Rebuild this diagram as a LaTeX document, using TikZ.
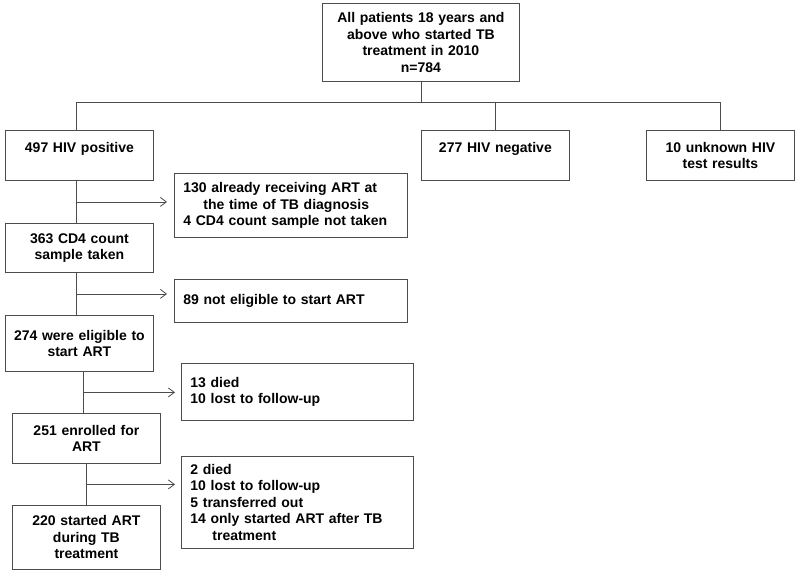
\documentclass[tikz,border=0pt]{standalone}
\usepackage{fontspec}
\setmainfont{Liberation Sans}
\usetikzlibrary{arrows.meta,calc}
\tikzset{
  box/.style={draw=black!70, line width=0.8pt, anchor=north west, inner xsep=6pt, inner ysep=2pt,
    align=center, font=\bfseries\fontsize{14}{16.5}\selectfont},
  lbox/.style={box, inner xsep=9pt, align=left},
  link/.style={draw=black!70, line width=0.8pt},
  arr/.style={link, -{Straight Barb[length=6pt,width=9pt]}}
}
\begin{document}
\begin{tikzpicture}[x=1pt,y=-1pt]
  \useasboundingbox (0,0) rectangle (800,574);
  % boxes
  \node[box, text width=185pt, minimum height=78pt] (all) at (322,3) {All patients 18 years and\\ above who started TB\\ treatment in 2010\\ n=784};
  \node[box, text width=136pt, minimum height=50pt] (hivpos) at (5,130) {497 HIV positive\\ ~};
  \node[box, text width=136pt, minimum height=50pt] (hivneg) at (421,130) {277 HIV negative\\ ~};
  \node[box, text width=136pt, minimum height=50pt] (hivunk) at (646,130) {10 unknown HIV\\ test results};
  \node[lbox, text width=215pt, minimum height=64pt] (excla) at (174,173) {130 already receiving ART at\\ \hspace*{20pt}the time of TB diagnosis\\ 4 CD4 count sample not taken};
  \node[box, text width=136pt, minimum height=49pt] (cdfour) at (5,223) {363 CD4 count\\ sample taken};
  \node[lbox, text width=215pt, minimum height=43pt] (exclb) at (174,279) {89 not eligible to start ART};
  \node[box, text width=136pt, minimum height=56pt] (elig) at (5,315) {274 were eligible to\\ start ART};
  \node[lbox, text width=214pt, minimum height=57pt] (exclc) at (181,363) {13 died\\ 10 lost to follow-up};
  \node[box, text width=136pt, minimum height=50pt] (enrol) at (12,413) {251 enrolled for\\ ART};
  \node[lbox, text width=214pt, minimum height=92pt] (excld) at (181,456) {2 died\\ 10 lost to follow-up\\ 5 transferred out\\ 14 only started ART after TB\\ \hspace*{22pt}treatment};
  \node[box, text width=136pt, minimum height=64pt] (started) at (12,505) {220 started ART\\ during TB\\ treatment};
  % split at the top
  \coordinate (split) at (0,102);
  \draw[link] (all.south) -- (all.south |- split);
  \draw[link] ([xshift=-3pt]hivpos.north) |- (hivunk.north |- split) -- (hivunk.north);
  \draw[link] (hivneg.north) -- (hivneg.north |- split);
  % main flow with exclusions
  \coordinate (ja) at ($([xshift=-3pt]hivpos.south)!0.5!([xshift=-3pt]cdfour.north)$);
  \draw[link] ([xshift=-3pt]hivpos.south) -- ([xshift=-3pt]cdfour.north);
  \draw[arr] (ja) -- ([xshift=-7pt]excla.west |- ja);
  \coordinate (jb) at ($([xshift=-3pt]cdfour.south)!0.5!([xshift=-3pt]elig.north)$);
  \draw[link] ([xshift=-3pt]cdfour.south) -- ([xshift=-3pt]elig.north);
  \draw[arr] (jb) -- ([xshift=-7pt]exclb.west |- jb);
  \coordinate (jc) at ($(elig.south)!0.5!(enrol.north)$);
  \draw[link] (elig.south -| jc) -- (enrol.north -| jc);
  \draw[arr] (jc) -- ([xshift=-6pt]exclc.west |- jc);
  \coordinate (jd) at ($(enrol.south)!0.5!(started.north)$);
  \draw[link] (enrol.south) -- (started.north);
  \draw[arr] (jd) -- ([xshift=-6pt]excld.west |- jd);
\end{tikzpicture}
\end{document}
